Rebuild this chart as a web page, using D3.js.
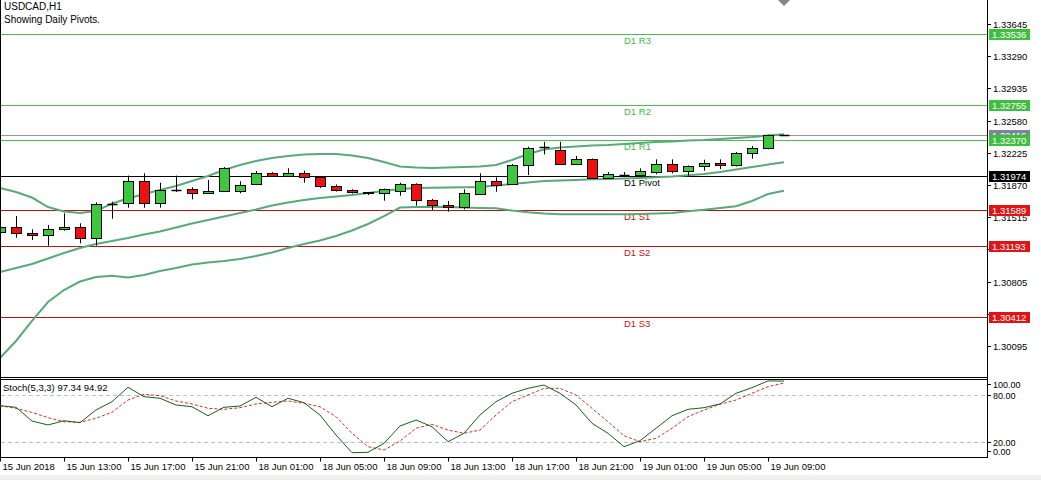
<!DOCTYPE html>
<html><head><meta charset="utf-8">
<script src="https://cdn.jsdelivr.net/npm/d3@7"></script>
<style>body{margin:0;background:#fff}svg{display:block}text{font-family:"Liberation Sans",Arial,sans-serif}</style>
</head><body><svg id="c" width="1041" height="480"></svg>
<script>
const symbolTitle = "USDCAD,H1";
const subTitle = "Showing Daily Pivots.";
const openP  = [1.31352,1.31404,1.31341,1.31315,1.31382,1.31404,1.31278,1.31666,1.31668,1.31911,1.31668,1.31817,1.31826,1.31779,1.31801,1.31801,1.31881,1.31999,1.31969,1.31999,1.31955,1.31859,1.31812,1.31782,1.31779,1.31807,1.31878,1.31701,1.31646,1.31620,1.31779,1.31917,1.31878,1.32091,1.32286,1.32256,1.32098,1.32153,1.31944,1.31982,1.31977,1.32010,1.32102,1.32028,1.32076,1.32113,1.32091,1.32215,1.32275,1.32420];
const highP  = [1.31429,1.31528,1.31382,1.31429,1.31558,1.31448,1.31679,1.31686,1.31973,1.31999,1.31895,1.31973,1.31845,1.31925,1.32068,1.31911,1.32024,1.32013,1.32054,1.32028,1.31969,1.31876,1.31823,1.31793,1.31831,1.31895,1.31889,1.31716,1.31694,1.31823,1.31999,1.31955,1.32102,1.32292,1.32347,1.32347,1.32190,1.32162,1.32013,1.32013,1.32054,1.32153,1.32153,1.32085,1.32149,1.32153,1.32234,1.32300,1.32425,1.32422];
const lowP   = [1.31319,1.31289,1.31264,1.31201,1.31366,1.31227,1.31201,1.31498,1.31620,1.31620,1.31620,1.31793,1.31712,1.31771,1.31793,1.31779,1.31870,1.31964,1.31964,1.31895,1.31837,1.31798,1.31776,1.31760,1.31697,1.31752,1.31642,1.31594,1.31576,1.31602,1.31771,1.31796,1.31870,1.31980,1.32208,1.32091,1.32091,1.31936,1.31936,1.31958,1.31969,1.31988,1.31999,1.31973,1.32028,1.32046,1.32074,1.32160,1.32264,1.32418];
const closeP = [1.31407,1.31338,1.31315,1.31382,1.31404,1.31278,1.31657,1.31666,1.31911,1.31668,1.31812,1.31817,1.31779,1.31804,1.32057,1.31867,1.31997,1.31969,1.31999,1.31955,1.31851,1.31815,1.31785,1.31790,1.31823,1.31881,1.31697,1.31646,1.31620,1.31779,1.31917,1.31878,1.32087,1.32275,1.32286,1.32102,1.32153,1.31944,1.31988,1.31982,1.32021,1.32102,1.32028,1.32079,1.32113,1.32094,1.32226,1.32275,1.32416,1.32420];
const bandUpper  = [1.31837,1.31793,1.31732,1.31627,1.31578,1.31561,1.31583,1.31666,1.31721,1.31771,1.31815,1.31859,1.31914,1.31969,1.32035,1.32091,1.32135,1.32168,1.32190,1.32206,1.32212,1.32212,1.32195,1.32168,1.32124,1.32074,1.32063,1.32057,1.32063,1.32068,1.32074,1.32091,1.32146,1.32212,1.32261,1.32283,1.32294,1.32305,1.32311,1.32322,1.32333,1.32344,1.32350,1.32361,1.32366,1.32377,1.32388,1.32399,1.32416,1.32429];
const bandMiddle = [1.30911,1.30955,1.30999,1.31060,1.31120,1.31175,1.31220,1.31253,1.31286,1.31324,1.31357,1.31401,1.31446,1.31484,1.31523,1.31561,1.31600,1.31644,1.31677,1.31705,1.31727,1.31743,1.31760,1.31782,1.31804,1.31826,1.31837,1.31840,1.31842,1.31845,1.31848,1.31864,1.31881,1.31898,1.31914,1.31920,1.31925,1.31933,1.31936,1.31942,1.31947,1.31955,1.31964,1.31977,1.31991,1.32013,1.32041,1.32068,1.32096,1.32120];
const bandLower  = [1.29963,1.30150,1.30371,1.30580,1.30712,1.30806,1.30856,1.30870,1.30850,1.30878,1.30922,1.30955,1.30994,1.31016,1.31032,1.31054,1.31087,1.31126,1.31175,1.31220,1.31258,1.31308,1.31368,1.31440,1.31528,1.31622,1.31627,1.31631,1.31627,1.31622,1.31616,1.31613,1.31589,1.31569,1.31556,1.31548,1.31547,1.31547,1.31547,1.31547,1.31550,1.31555,1.31561,1.31581,1.31598,1.31616,1.31635,1.31694,1.31771,1.31807];
const stochMain   = [66.2,64.2,46.8,41.8,47.2,44.7,60.8,71.3,89.5,77.6,75.6,67.1,64.9,53.5,64.2,65.8,76.8,64.9,75.6,70.0,54.4,29.1,6.7,7.2,18.6,40.5,48.1,39.6,20.6,31.3,54.4,71.3,81.9,88.2,92.4,81.9,67.1,43.9,31.3,14.3,21.9,37.6,53.5,61.6,63.7,68.4,81.9,89.0,97.6,97.34];
const stochSignal = [66.2,62.9,57.8,51.0,45.9,45.2,50.3,57.8,73.4,80.6,78.9,72.2,68.4,62.9,61.6,63.7,68.4,70.5,72.2,69.2,64.9,52.3,31.3,14.3,10.1,21.5,37.6,42.7,35.4,31.3,35.4,54.4,71.3,79.7,88.2,88.2,79.7,62.9,45.9,28.2,20.6,24.9,37.6,52.3,60.8,68.0,73.4,81.9,90.3,94.92];
const stochLabel = "Stoch(5,3,3) 97.34 94.92";
const pivotNames  = ["D1 R3","D1 R2","D1 R1","D1 Pivot","D1 S1","D1 S2","D1 S3"];
const pivotValues = [1.33536,1.32755,1.32370,1.31974,1.31589,1.31193,1.30412];
const pivotKinds  = ["r","r","r","p","s","s","s"];
const bidPrice = 1.32416;
const priceTicks = [1.33645,1.33290,1.32935,1.32580,1.32225,1.31870,1.31515,1.31160,1.30805,1.30450,1.30095];
const stochTicks = [100,80,20,0];
const timeLabels = ["15 Jun 2018","15 Jun 13:00","15 Jun 17:00","15 Jun 21:00","18 Jun 01:00","18 Jun 05:00","18 Jun 09:00","18 Jun 13:00","18 Jun 17:00","18 Jun 21:00","19 Jun 01:00","19 Jun 05:00","19 Jun 09:00"];
const labelStep = 4;

const svg = d3.select("#c");
const W = 987, mainBottom = 377.5, stTop = 379.5, stBottom = 457.5;
const n = openP.length;
const x = d3.scaleLinear().domain([0, n-1]).range([0, 16*(n-1)]);
const y = d3.scaleLinear().domain([1.29742, 1.33910]).range([378, 0]);
const ys = d3.scaleLinear().domain([0, 100]).range([458, 379]);

const col = {r:"#4dbb4d", s:"#b01818", p:"#000000"};
const boxCol = {r:"#3fbf3f", s:"#e01414", p:"#000000"};
const txtCol = {r:"#3fb83f", s:"#c81010", p:"#000000"};

const main = svg.append("g");
main.append("line").attr("x1",0).attr("x2",W).attr("y1",Math.round(y(bidPrice))+0.5).attr("y2",Math.round(y(bidPrice))+0.5).attr("stroke","#8e9aa6").attr("stroke-width",1);
pivotValues.forEach((v,i)=>{
  const yy = Math.round(y(v))+0.5;
  main.append("line").attr("x1",0).attr("x2",W).attr("y1",yy).attr("y2",yy).attr("stroke",col[pivotKinds[i]]).attr("stroke-width",1);
  main.append("text").attr("x",624).attr("y",yy+9).attr("font-size",9.5).attr("fill",txtCol[pivotKinds[i]]).text(pivotNames[i]);
});
const bandLine = d3.line().x((d,i)=>x(i)).y(d=>y(d)).curve(d3.curveLinear);
[bandUpper,bandMiddle,bandLower].forEach(b=>{
  main.append("path").attr("d",bandLine(b)).attr("fill","none").attr("stroke","#5aa97a").attr("stroke-width",2);
});
for (let i=0;i<n;i++){
  const cx = Math.round(x(i))+0.5;
  const o=openP[i], c=closeP[i];
  main.append("line").attr("x1",cx).attr("x2",cx).attr("y1",y(highP[i])).attr("y2",y(lowP[i])).attr("stroke","#000").attr("stroke-width",1);
  if (Math.abs(o-c) < 0.000015) {
    main.append("line").attr("x1",cx-5).attr("x2",cx+5).attr("y1",Math.round(y(c))+0.5).attr("y2",Math.round(y(c))+0.5).attr("stroke","#000").attr("stroke-width",1.5);
  } else {
    const top = y(Math.max(o,c)), bot = y(Math.min(o,c));
    main.append("rect").attr("x",cx-5).attr("y",Math.round(top)+0.5).attr("width",10).attr("height",Math.max(1,Math.round(bot-top)))
      .attr("fill", c>o ? "#3cc83c" : "#f01010").attr("stroke","#000").attr("stroke-width",1);
  }
}
svg.append("line").attr("x1",0.5).attr("x2",0.5).attr("y1",0).attr("y2",stBottom).attr("stroke","#000");
svg.append("line").attr("x1",W+0.5).attr("x2",W+0.5).attr("y1",0).attr("y2",stBottom).attr("stroke","#000");
svg.append("line").attr("x1",0).attr("x2",W+1).attr("y1",mainBottom).attr("y2",mainBottom).attr("stroke","#000");
svg.append("line").attr("x1",0).attr("x2",W+1).attr("y1",stTop).attr("y2",stTop).attr("stroke","#000");
svg.append("line").attr("x1",0).attr("x2",W+1).attr("y1",stBottom).attr("y2",stBottom).attr("stroke","#000");
svg.append("path").attr("d",`M${x(n-1)-6},0 L${x(n-1)+6},0 L${x(n-1)},6 Z`).attr("fill","#7a8896");
svg.append("text").attr("x",4).attr("y",10).attr("font-size",10).attr("fill","#000").text(symbolTitle);
svg.append("text").attr("x",4).attr("y",23).attr("font-size",10).attr("fill","#000").text(subTitle);

const pa = svg.append("g");
const boxYs = pivotValues.map(v=>y(v));
priceTicks.forEach(v=>{
  const yy = Math.round(y(v))+0.5;
  pa.append("line").attr("x1",W).attr("x2",W+4).attr("y1",yy).attr("y2",yy).attr("stroke","#000");
  const hidden = boxYs.some(b=>Math.abs(b-yy)<6);
  if (!hidden) pa.append("text").attr("x",W+6).attr("y",yy+3.5).attr("font-size",9.5).attr("fill","#000").text(v.toFixed(5));
});
const by = Math.round(y(bidPrice));
pa.append("rect").attr("x",W+2).attr("y",by-5).attr("width",41).attr("height",11).attr("fill","#7a8896");
pa.append("text").attr("x",W+5).attr("y",by+4).attr("font-size",9.5).attr("fill","#fff").text(bidPrice.toFixed(5));
pivotValues.forEach((v,i)=>{
  const yy = Math.round(y(v));
  pa.append("rect").attr("x",W+2).attr("y",yy-5).attr("width",41).attr("height",11).attr("fill",boxCol[pivotKinds[i]]);
  pa.append("text").attr("x",W+5).attr("y",yy+4).attr("font-size",9.5).attr("fill","#fff").text(v.toFixed(5));
});

const st = svg.append("g");
[80,20].forEach(v=>{
  st.append("line").attr("x1",1).attr("x2",W).attr("y1",Math.round(ys(v))+0.5).attr("y2",Math.round(ys(v))+0.5).attr("stroke","#c0c0c0").attr("stroke-dasharray","4,3");
});
const sl = d3.line().x((d,i)=>x(i)).y(d=>ys(d));
st.append("path").attr("d",sl(stochSignal)).attr("fill","none").attr("stroke","#c83232").attr("stroke-width",1).attr("stroke-dasharray","3,2");
st.append("path").attr("d",sl(stochMain)).attr("fill","none").attr("stroke","#1b5e1b").attr("stroke-width",1);
st.append("text").attr("x",3).attr("y",391).attr("font-size",9.5).attr("fill","#000").text(stochLabel);
stochTicks.forEach(v=>{
  let yy = Math.round(ys(v))+0.5;
  yy = Math.max(stTop+5, Math.min(stBottom-6, yy));
  st.append("line").attr("x1",W).attr("x2",W+4).attr("y1",yy).attr("y2",yy).attr("stroke","#000");
  st.append("text").attr("x",W+6).attr("y",yy+3).attr("font-size",9).attr("fill","#000").text(v.toFixed(2));
});
timeLabels.forEach((t,k)=>{
  const xx = Math.round(x(k*labelStep))+0.5;
  svg.append("line").attr("x1",xx).attr("x2",xx).attr("y1",stBottom).attr("y2",stBottom+4).attr("stroke","#000");
  svg.append("text").attr("x",xx+2).attr("y",470).attr("font-size",9.5).attr("fill","#000").text(t);
});
svg.append("rect").attr("x",0).attr("y",475).attr("width",1041).attr("height",5).attr("fill","#f0f0f0");
</script></body></html>
